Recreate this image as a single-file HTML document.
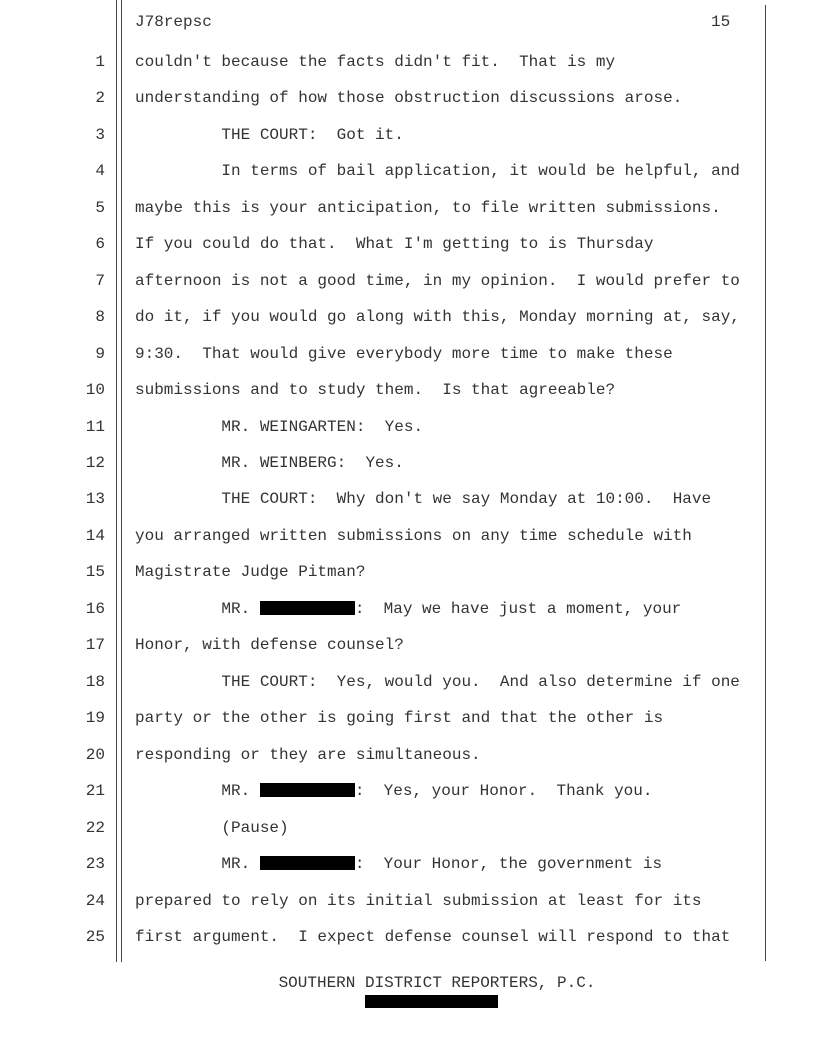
<!DOCTYPE html>
<html><head><meta charset="utf-8"><style>
body{margin:0;background:#fff;}
.pg{position:relative;width:816px;height:1056px;overflow:hidden;font-family:"Liberation Mono",monospace;font-size:16px;color:#333;}
.v{position:absolute;background:#444;width:1px;}
.n{position:absolute;right:711px;width:40px;text-align:right;white-space:pre;line-height:18px;}
.t{position:absolute;left:135px;white-space:pre;line-height:18px;}
.r{display:inline-block;width:95px;height:14px;background:#000;vertical-align:-2px;}
</style></head><body><div class="pg">
<div class="v" style="left:116px;top:0;height:962px"></div>
<div class="v" style="left:121px;top:0;height:962px"></div>
<div class="v" style="left:765px;top:5px;height:956px"></div>
<div class="t" style="top:13px">J78repsc</div>
<div class="t" style="top:13px;left:711px">15</div>
<div class="n" style="top:53px">1</div><div class="t" style="top:53px">couldn't because the facts didn't fit.  That is my</div>
<div class="n" style="top:89px">2</div><div class="t" style="top:89px">understanding of how those obstruction discussions arose.</div>
<div class="n" style="top:126px">3</div><div class="t" style="top:126px">         THE COURT:  Got it.</div>
<div class="n" style="top:162px">4</div><div class="t" style="top:162px">         In terms of bail application, it would be helpful, and</div>
<div class="n" style="top:199px">5</div><div class="t" style="top:199px">maybe this is your anticipation, to file written submissions.</div>
<div class="n" style="top:235px">6</div><div class="t" style="top:235px">If you could do that.  What I'm getting to is Thursday</div>
<div class="n" style="top:272px">7</div><div class="t" style="top:272px">afternoon is not a good time, in my opinion.  I would prefer to</div>
<div class="n" style="top:308px">8</div><div class="t" style="top:308px">do it, if you would go along with this, Monday morning at, say,</div>
<div class="n" style="top:345px">9</div><div class="t" style="top:345px">9:30.  That would give everybody more time to make these</div>
<div class="n" style="top:381px">10</div><div class="t" style="top:381px">submissions and to study them.  Is that agreeable?</div>
<div class="n" style="top:418px">11</div><div class="t" style="top:418px">         MR. WEINGARTEN:  Yes.</div>
<div class="n" style="top:454px">12</div><div class="t" style="top:454px">         MR. WEINBERG:  Yes.</div>
<div class="n" style="top:490px">13</div><div class="t" style="top:490px">         THE COURT:  Why don't we say Monday at 10:00.  Have</div>
<div class="n" style="top:527px">14</div><div class="t" style="top:527px">you arranged written submissions on any time schedule with</div>
<div class="n" style="top:563px">15</div><div class="t" style="top:563px">Magistrate Judge Pitman?</div>
<div class="n" style="top:600px">16</div><div class="t" style="top:600px">         MR. <span class="r"></span>:  May we have just a moment, your</div>
<div class="n" style="top:636px">17</div><div class="t" style="top:636px">Honor, with defense counsel?</div>
<div class="n" style="top:673px">18</div><div class="t" style="top:673px">         THE COURT:  Yes, would you.  And also determine if one</div>
<div class="n" style="top:709px">19</div><div class="t" style="top:709px">party or the other is going first and that the other is</div>
<div class="n" style="top:746px">20</div><div class="t" style="top:746px">responding or they are simultaneous.</div>
<div class="n" style="top:782px">21</div><div class="t" style="top:782px">         MR. <span class="r"></span>:  Yes, your Honor.  Thank you.</div>
<div class="n" style="top:819px">22</div><div class="t" style="top:819px">         (Pause)</div>
<div class="n" style="top:855px">23</div><div class="t" style="top:855px">         MR. <span class="r"></span>:  Your Honor, the government is</div>
<div class="n" style="top:892px">24</div><div class="t" style="top:892px">prepared to rely on its initial submission at least for its</div>
<div class="n" style="top:928px">25</div><div class="t" style="top:928px">first argument.  I expect defense counsel will respond to that</div>
<div class="t" style="top:974px;left:0;width:874px;text-align:center">SOUTHERN DISTRICT REPORTERS, P.C.</div>
<div style="position:absolute;left:365px;top:995px;width:133px;height:13px;background:#000"></div>
</div></body></html>
